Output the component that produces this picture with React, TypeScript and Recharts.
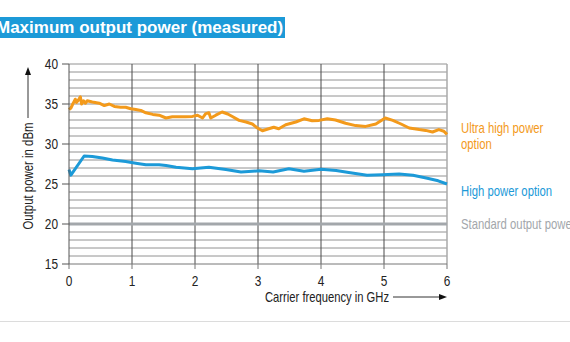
import { LineChart, Line, XAxis, YAxis, ReferenceLine } from "recharts";

const ultraFreq = [0, 0.03, 0.06, 0.08, 0.1, 0.12, 0.15, 0.18, 0.2, 0.23, 0.26, 0.29, 0.37, 0.48, 0.56, 0.64, 0.72, 0.82, 0.9, 0.98, 1.06, 1.14, 1.22, 1.33, 1.43, 1.54, 1.64, 1.75, 1.85, 1.96, 2.04, 2.12, 2.17, 2.22, 2.25, 2.33, 2.43, 2.52, 2.6, 2.7, 2.81, 2.91, 2.99, 3.07, 3.17, 3.25, 3.33, 3.44, 3.6, 3.73, 3.86, 3.97, 4.1, 4.23, 4.39, 4.55, 4.71, 4.87, 5.02, 5.14, 5.27, 5.4, 5.56, 5.66, 5.77, 5.87, 5.95, 6.0];
const ultraPower = [34.3, 34.5, 35.0, 35.3, 35.6, 35.2, 35.5, 35.9, 35.0, 35.4, 35.1, 35.4, 35.25, 35.1, 34.8, 35.0, 34.7, 34.6, 34.6, 34.4, 34.3, 34.2, 33.9, 33.7, 33.6, 33.25, 33.4, 33.4, 33.4, 33.45, 33.6, 33.25, 33.8, 33.9, 33.25, 33.6, 34.0, 33.75, 33.4, 32.95, 32.75, 32.5, 32.0, 31.65, 31.9, 32.1, 31.9, 32.4, 32.75, 33.15, 32.9, 32.95, 33.15, 33.0, 32.6, 32.3, 32.2, 32.5, 33.25, 32.95, 32.5, 32.0, 31.8, 31.7, 31.5, 31.8, 31.6, 31.2];

const highFreq = [0, 0.03, 0.24, 0.37, 0.53, 0.69, 0.9, 1.06, 1.22, 1.43, 1.54, 1.7, 1.96, 2.22, 2.49, 2.73, 3.02, 3.24, 3.49, 3.73, 4.0, 4.24, 4.44, 4.73, 4.97, 5.24, 5.46, 5.67, 5.86, 6.0];
const highPower = [26.8, 26.1, 28.5, 28.45, 28.25, 28.0, 27.8, 27.6, 27.4, 27.4, 27.3, 27.1, 26.9, 27.1, 26.8, 26.5, 26.65, 26.5, 26.9, 26.6, 26.85, 26.7, 26.45, 26.1, 26.15, 26.25, 26.1, 25.75, 25.4, 25.0];

const standardFreq = [0, 6];
const standardPower = [20, 20];

const xTicks = [0, 1, 2, 3, 4, 5, 6];
const yTicks = [15, 20, 25, 30, 35, 40];
const yGrid = [16, 17, 18, 19, 21, 22, 23, 24, 25, 26, 27, 28, 29, 30, 31, 32, 33, 34, 35, 36, 37, 38, 39, 40];

const toPoints = (xs: number[], ys: number[]) => xs.map((f, i) => ({ freq: f, power: ys[i] }));

const ORANGE = "#f39a1b";
const BLUE = "#1c9ad8";
const GRAY = "#a3a7ab";
const FONT = "'Liberation Sans', Arial, sans-serif";

// the datasheet uses a condensed face; squeeze Liberation Sans horizontally
const narrow = (left: number, top: number, color: string) => ({
  position: "absolute" as const,
  left,
  top,
  fontFamily: FONT,
  fontSize: 14.5,
  lineHeight: "16px",
  color,
  whiteSpace: "nowrap" as const,
  transform: "scaleX(0.78)",
  transformOrigin: "0 0",
});

function YTick(props: any) {
  const { x, y, payload } = props;
  const s = String(payload.value);
  return (
    <text x={x} y={y} dy="0.36em" textAnchor="end" fontSize={14.5} fill="#222" fontFamily={FONT} textLength={s.length * 6.6} lengthAdjust="spacingAndGlyphs">
      {s}
    </text>
  );
}

function XTick(props: any) {
  const { x, y, payload } = props;
  const s = String(payload.value);
  return (
    <text x={x} y={y} dy="0.75em" textAnchor="middle" fontSize={14.5} fill="#222" fontFamily={FONT} textLength={s.length * 6.6} lengthAdjust="spacingAndGlyphs">
      {s}
    </text>
  );
}

function YLabel() {
  return (
    <g>
      <defs>
        <marker id="arrowHead" markerWidth="8" markerHeight="8" refX="4" refY="4" orient="auto">
          <path d="M0,1 L8,4 L0,7 Z" fill="#111" />
        </marker>
      </defs>
      <line x1={28} y1={118} x2={28} y2={71} stroke="#333" strokeWidth={1} markerEnd="url(#arrowHead)" />
      <text
        x={28}
        y={176}
        transform="rotate(-90 28 176)"
        textAnchor="middle"
        dominantBaseline="central"
        fontSize={14.5}
        fill="#222"
        fontFamily={FONT}
        textLength={107}
        lengthAdjust="spacingAndGlyphs"
      >
        Output power in dBm
      </text>
    </g>
  );
}

function XLabel() {
  return (
    <g>
      <text x={265} y={297} dominantBaseline="central" fontSize={14.5} fill="#222" fontFamily={FONT} textLength={124} lengthAdjust="spacingAndGlyphs">
        Carrier frequency in GHz
      </text>
      <line x1={393} y1={297} x2={443} y2={297} stroke="#333" strokeWidth={1} markerEnd="url(#arrowHead)" />
    </g>
  );
}

export default function App() {
  return (
    <div style={{ position: "fixed", left: 0, top: 0, width: 570, height: 342, background: "#fff", overflow: "hidden" }}>
      <div
        style={{
          position: "absolute",
          left: 0,
          top: 17,
          width: 285,
          height: 21,
          background: BLUE,
          color: "#fff",
          fontFamily: FONT,
          fontWeight: 700,
          fontSize: 17,
          lineHeight: "21px",
          whiteSpace: "nowrap",
          overflow: "hidden",
        }}
      >
        <span style={{ position: "relative", left: -4 }}>Maximum output power (measured)</span>
      </div>

      <div style={{ position: "absolute", left: 0, top: 0 }}>
        <LineChart width={570} height={342} margin={{ top: 64, right: 123, bottom: 48, left: 0 }}>
          {yGrid.map((v) => (
            <ReferenceLine key={v} y={v} stroke="#929292" strokeWidth={1} />
          ))}
          {xTicks.slice(1, 6).map((v) => (
            <ReferenceLine key={"x" + v} x={v} stroke="#4a4a4a" strokeWidth={1} />
          ))}
          <ReferenceLine x={6} stroke="#aaa" strokeWidth={1.5} />
          <XAxis
            dataKey="freq"
            type="number"
            domain={[0, 6]}
            ticks={xTicks}
            height={30}
            tickSize={5}
            tickMargin={6}
            stroke="#777"
            tick={<XTick />}
            allowDuplicatedCategory={false}
            label={<XLabel />}
          />
          <YAxis
            dataKey="power"
            type="number"
            domain={[15, 40]}
            ticks={yTicks}
            width={69}
            tickSize={7}
            tickMargin={4}
            stroke="#555"
            tick={<YTick />}
            label={<YLabel />}
          />
          <Line
            data={toPoints(standardFreq, standardPower)}
            dataKey="power"
            stroke={GRAY}
            strokeWidth={3}
            dot={false}
            isAnimationActive={false}
          />
          <Line
            data={toPoints(highFreq, highPower)}
            dataKey="power"
            stroke={BLUE}
            strokeWidth={3}
            dot={false}
            strokeLinejoin="round"
            isAnimationActive={false}
          />
          <Line
            data={toPoints(ultraFreq, ultraPower)}
            dataKey="power"
            stroke={ORANGE}
            strokeWidth={3}
            dot={false}
            strokeLinejoin="round"
            isAnimationActive={false}
          />
        </LineChart>
      </div>

      <div style={narrow(461, 120, ORANGE)}>
        Ultra high power
        <br />
        option
      </div>
      <div style={narrow(461, 183, BLUE)}>High power option</div>
      <div style={narrow(461, 216, GRAY)}>Standard output power</div>

      <div style={{ position: "absolute", left: 0, top: 321, width: 570, height: 1, background: "#dcdcdc" }} />
    </div>
  );
}
